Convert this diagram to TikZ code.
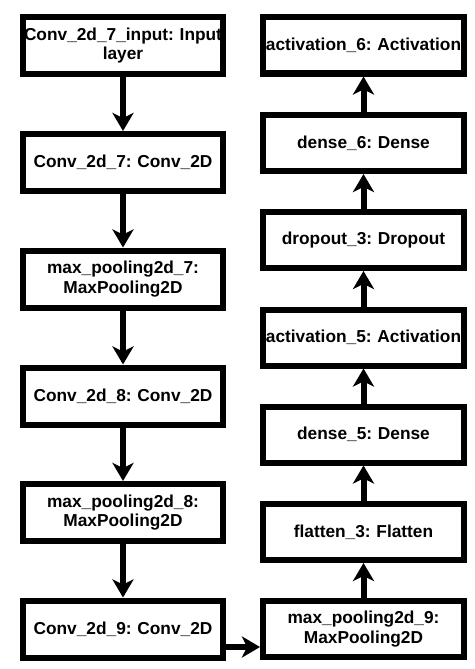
\documentclass[tikz,border=0pt]{standalone}
\usepackage{fontspec}
\setmainfont{Liberation Sans}
\usetikzlibrary{arrows.meta}
\frenchspacing
\begin{document}
\begin{tikzpicture}[x=1pt,y=-1pt,
  layerbox/.style={draw=black, line width=6pt, fill=white, minimum width=200pt, minimum height=57pt,
    inner sep=0pt, text width=200pt, align=center,
    font=\bfseries\fontsize{17.3pt}{19.5pt}\selectfont\frenchspacing},
  rlayer/.style={layerbox, minimum width=201pt, text width=201pt, minimum height=56pt},
  flow/.style={line width=6pt, -{Stealth[length=18pt, width=21pt, inset=5pt]}}]
\useasboundingbox (0,0) rectangle (474,669);
\fill[white] (0,0) rectangle (474,669);
% left column
\node[layerbox] (in)  at (123,45.5)  {Conv\_2d\_7\_input: Input\\layer};
\node[layerbox] (c7)  at (123,162.5) {Conv\_2d\_7: Conv\_2D};
\node[layerbox] (mp7) at (123,279)   {max\_pooling2d\_7:\\MaxPooling2D};
\node[layerbox] (c8)  at (123,396)   {Conv\_2d\_8: Conv\_2D};
\node[layerbox] (mp8) at (123,512.5) {max\_pooling2d\_8:\\MaxPooling2D};
\node[layerbox] (c9)  at (123,629)   {Conv\_2d\_9: Conv\_2D};
% right column
\node[rlayer] (mp9) at (363.5,629)   {max\_pooling2d\_9:\\MaxPooling2D};
\node[rlayer] (fl3) at (363.5,532)   {flatten\_3: Flatten};
\node[rlayer] (d5)  at (363.5,434.5) {dense\_5: Dense};
\node[rlayer] (a5)  at (363.5,337.5) {activation\_5: Activation};
\node[rlayer] (dr3) at (363.5,240)   {dropout\_3: Dropout};
\node[rlayer] (d6)  at (363.5,143)   {dense\_6: Dense};
\node[rlayer] (a6)  at (363.5,45.5)  {activation\_6: Activation};
% connectors
\draw[flow] (in) -- (c7);
\draw[flow] (c7) -- (mp7);
\draw[flow] (mp7) -- (c8);
\draw[flow] (c8) -- (mp8);
\draw[flow] (mp8) -- (c9);
\draw[flow] ([yshift=-18pt]c9.east) -- ([yshift=-18pt]mp9.west);
\draw[flow] (mp9) -- (fl3);
\draw[flow] (fl3) -- (d5);
\draw[flow] (d5) -- (a5);
\draw[flow] (a5) -- (dr3);
\draw[flow] (dr3) -- (d6);
\draw[flow] (d6) -- (a6);
\end{tikzpicture}
\end{document}
